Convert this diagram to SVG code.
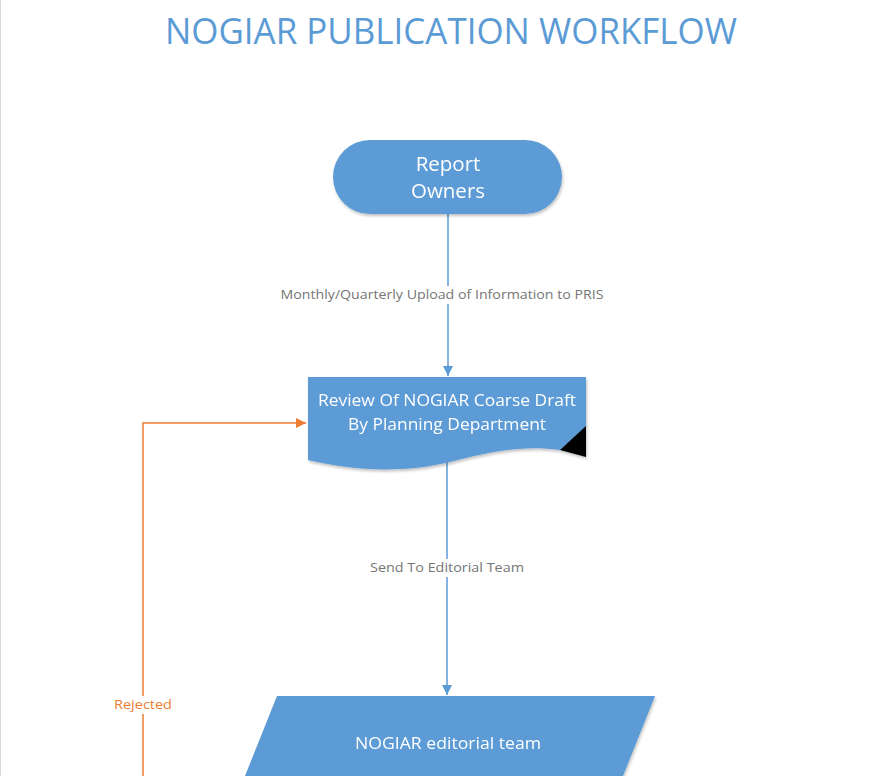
<svg xmlns="http://www.w3.org/2000/svg" width="882" height="776" viewBox="0 0 882 776">
<defs>
<style>
.node{fill:#5b9bd5;}
.nt{font-family:"Open Sans","Noto Sans",sans-serif;fill:#ffffff;text-anchor:middle;}
.lbl{font-family:"Open Sans","Noto Sans",sans-serif;font-size:13px;fill:#767676;text-anchor:middle;}
.edge{fill:none;stroke:#5b9bd5;stroke-width:1.5;}
.rej{fill:none;stroke:#ed7d31;stroke-width:1.5;}
</style>
<filter id="sh" x="-10%" y="-10%" width="130%" height="140%">
<feGaussianBlur in="SourceAlpha" stdDeviation="1.5"/>
<feOffset dx="1" dy="2" result="b"/>
<feComponentTransfer><feFuncA type="linear" slope="0.25"/></feComponentTransfer>
<feMerge><feMergeNode/><feMergeNode in="SourceGraphic"/></feMerge>
</filter>
<marker id="ab" viewBox="0 0 10 10" refX="10" refY="5" markerWidth="11" markerHeight="10" markerUnits="userSpaceOnUse" orient="auto"><path d="M0,0 L10,5 L0,10 z" fill="#5b9bd5"/></marker>
<marker id="ao" viewBox="0 0 10 10" refX="10" refY="5" markerWidth="11" markerHeight="10" markerUnits="userSpaceOnUse" orient="auto"><path d="M0,0 L10,5 L0,10 z" fill="#ed7d31"/></marker>
</defs>
<rect x="0" y="0" width="882" height="776" fill="#ffffff"/>
<line x1="0.5" y1="0" x2="0.5" y2="776" stroke="#d9d9d9" stroke-width="1"/>
<text x="451" y="44" font-family="'Open Sans','Noto Sans',sans-serif" font-size="36" fill="#5b9bd5" text-anchor="middle" textLength="572" lengthAdjust="spacingAndGlyphs">NOGIAR PUBLICATION WORKFLOW</text>

<g id="connectors">
<line class="edge" x1="448" y1="214" x2="448" y2="376" marker-end="url(#ab)"/>
<rect x="278" y="286" width="330" height="18" fill="#ffffff"/>
<text class="lbl" x="442" y="299" textLength="323" lengthAdjust="spacingAndGlyphs">Monthly/Quarterly Upload of Information to PRIS</text>
<line class="edge" x1="447" y1="462" x2="447" y2="695" marker-end="url(#ab)"/>
<rect x="366" y="559" width="162" height="18" fill="#ffffff"/>
<text class="lbl" x="447" y="572" textLength="154" lengthAdjust="spacingAndGlyphs">Send To Editorial Team</text>
<polyline class="rej" points="143,776 143,423 306,423" marker-end="url(#ao)"/>
<rect x="111" y="696" width="64" height="18" fill="#ffffff"/>
<text x="143" y="709" font-family="'Open Sans','Noto Sans',sans-serif" font-size="13" fill="#ed7d31" text-anchor="middle" textLength="58" lengthAdjust="spacingAndGlyphs">Rejected</text>
</g>

<g id="report-owners" filter="url(#sh)">
<rect class="node" x="333" y="140" width="229" height="74" rx="37" ry="37"/>
<text class="nt" x="448" y="171" font-size="20.5">Report</text>
<text class="nt" x="448" y="198" font-size="20.5">Owners</text>
</g>

<g id="review-draft" filter="url(#sh)">
<path class="node" d="M308,377 H586 V427 L560,450 C520,445 490,452 450,462 C400,474 350,470 308,460 Z"/>
<path d="M560,450 L586,426 V457 Z" fill="#000000"/>
<text class="nt" x="447" y="406" font-size="16.5" textLength="258" lengthAdjust="spacingAndGlyphs">Review Of NOGIAR Coarse Draft</text>
<text class="nt" x="447" y="430" font-size="16.5" textLength="198" lengthAdjust="spacingAndGlyphs">By Planning Department</text>
</g>

<g id="editorial-team" filter="url(#sh)">
<path class="node" d="M277,696 H655 L623,776 H245 Z"/>
<text class="nt" x="448" y="749" font-size="16.5" textLength="186" lengthAdjust="spacingAndGlyphs">NOGIAR editorial team</text>
</g>
</svg>
